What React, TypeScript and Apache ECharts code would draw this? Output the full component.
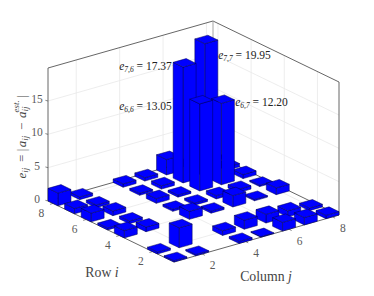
import React, { useEffect, useRef } from "react";
import * as echarts from "echarts";

// Error magnitude by row i (value at column j = 1..8)
const row1 = [0.2, 0.2, 0, 0.3, 0.1, 1.3, 1.1, 0.5];
const row2 = [0.3, 3.0, 0, 0.7, 1.35, 1.3, 0.9, 0.4];
const row3 = [0, 0, 0, 0, 0, 0, 0, 0];
const row4 = [1.1, 0.7, 0, 1.2, 0.3, 1.7, 0.2, 1.0];
const row5 = [0.3, 0.4, 0, 0.3, 0.3, 0.5, 0.5, 0.2];
const row6 = [1.3, 0.7, 0, 0.7, 0.3, 13.05, 12.2, 0.6];
const row7 = [0.8, 0.4, 0, 0.3, 0.5, 17.37, 19.95, 0.5];
const row8 = [1.9, 0.4, 0, 0.5, 0.5, 2.3, 0.5, 0.5];
const rows = [row1, row2, row3, row4, row5, row6, row7, row8];

const rowTicks = [2, 4, 6, 8];
const columnTicks = [2, 4, 6, 8];
const zTicks = [0, 5, 10, 15];
const annotations = [
  { sub: "7,6", value: "17.37" },
  { sub: "6,6", value: "13.05" },
  { sub: "7,7", value: "19.95" },
  { sub: "6,7", value: "12.20" },
];

const LIM0 = 0.7, LIM1 = 8.3, ZMAX = 19.95, HALF = 0.3;
const F = [174, 262], L = [48, 201], R = [339, 215], ZPX = 133;
const proj = (i: number, j: number, z: number) => {
  const u = (i - LIM0) / (LIM1 - LIM0), v = (j - LIM0) / (LIM1 - LIM0);
  return [F[0] + u * (L[0] - F[0]) + v * (R[0] - F[0]), F[1] + u * (L[1] - F[1]) + v * (R[1] - F[1]) - (z / ZMAX) * ZPX];
};

const AXIS = "#555555", GRID = "#e8e8e8", TICK = "#5a5a5a";
const SERIF = "'Liberation Serif', serif";

const line = (a: number[], b: number[], stroke: string, lineWidth = 0.8, z = 1) => ({
  type: "line", silent: true, z,
  shape: { x1: a[0], y1: a[1], x2: b[0], y2: b[1] },
  style: { stroke, lineWidth },
});
const label = (x: number, y: number, text: any, extra: any = {}, z = 20) => ({
  type: "text", silent: true, z, x, y,
  style: { text, font: `11.5px ${SERIF}`, fill: TICK, align: "center", verticalAlign: "middle", ...extra },
});

const mathRich = {
  it: { font: `italic 11.5px ${SERIF}`, fill: "#222" },
  rm: { font: `11.5px ${SERIF}`, fill: "#222" },
  sub: { font: `italic 7.5px ${SERIF}`, padding: [6, 0, 0, 0], fill: "#222" },
};
const yRich = {
  it: { font: `italic 13px ${SERIF}`, fill: "#444" },
  rm: { font: `13px ${SERIF}`, fill: "#444", padding: [0, 1.5, 0, 1.5] },
  sub: { font: `italic 9px ${SERIF}`, padding: [7, 1, 0, 0], fill: "#444" },
  sup: { font: `italic 9px ${SERIF}`, padding: [0, 1, 10, -7], fill: "#444" },
};
const titleRich = {
  rm: { font: `13.8px ${SERIF}`, fill: "#444" },
  it: { font: `italic 13.8px ${SERIF}`, fill: "#444" },
};
const annotationRich = (a: { sub: string; value: string }) => `{it|e}{sub|${a.sub}}{rm| = ${a.value}}`;

function buildGraphics() {
  const els: any[] = [];
  // floor and wall grid
  for (const j of columnTicks) {
    els.push(line(proj(LIM0, j, 0), proj(LIM1, j, 0), GRID));
    els.push(line(proj(LIM1, j, 0), proj(LIM1, j, ZMAX), GRID));
  }
  for (const i of rowTicks) {
    els.push(line(proj(i, LIM0, 0), proj(i, LIM1, 0), GRID));
    els.push(line(proj(i, LIM1, 0), proj(i, LIM1, ZMAX), GRID));
  }
  for (const z of zTicks.slice(1)) {
    els.push(line(proj(LIM1, LIM0, z), proj(LIM1, LIM1, z), GRID));
    els.push(line(proj(LIM1, LIM1, z), proj(LIM0, LIM1, z), GRID));
  }
  // box
  const l0 = proj(LIM1, LIM0, 0), l1 = proj(LIM1, LIM0, ZMAX);
  const f0 = proj(LIM0, LIM0, 0);
  const r0 = proj(LIM0, LIM1, 0), r1 = proj(LIM0, LIM1, ZMAX);
  const b0 = proj(LIM1, LIM1, 0), b1 = proj(LIM1, LIM1, ZMAX);
  [[l0, l1], [l1, b1], [b1, r1], [r1, r0], [l0, b0], [b0, r0], [l0, f0], [f0, r0]].forEach(([a, b]) => els.push(line(a, b, AXIS, 0.9, 2)));
  els.push(line(b0, b1, "#9a9a9a", 0.9, 2));
  // ticks and tick labels
  for (const i of rowTicks) {
    const p = proj(i, LIM0, 0);
    els.push(line(p, [p[0] - 3, p[1] + 0.9], AXIS, 0.7, 2));
    els.push(label(p[0] - 11.5, p[1] + 9.5, String(i)));
  }
  for (const j of columnTicks) {
    const p = proj(LIM0, j, 0);
    els.push(line(p, [p[0] + 2.6, p[1] + 1.3], AXIS, 0.7, 2));
    els.push(label(p[0] + 10.5, p[1] + 11.5, String(j)));
  }
  for (const z of zTicks) {
    const p = proj(LIM1, LIM0, z);
    els.push(line(p, [p[0] - 2.6, p[1] - 0.7], AXIS, 0.7, 2));
    els.push(label(p[0] - 11, p[1] - 2, String(z), { align: "center" }));
  }
  // axis titles
  els.push(label(102, 272, "{rm|Row }{it|i}", { rich: titleRich }));
  els.push(label(266, 276, "{rm|Column }{it|j}", { rich: titleRich }));
  const yl = label(21, 136, "{it|e}{sub|ij}{rm| = |}{it|a}{sub|ij}{rm| − }{it|a}{sub|ij}{sup|est.}{rm||}", { rich: yRich });
  (yl as any).rotation = Math.PI / 2;
  els.push(yl);
  // annotations
  const ann: [number, number, number][] = [[145.5, 66, 0], [145.5, 106, 1], [244.5, 55, 2], [261.5, 102, 3]];
  for (const [x, y, k] of ann) els.push(label(x, y, annotationRich(annotations[k]), { rich: mathRich }, 30));
  return els;
}

const barData: number[][] = [];
for (let i = 8; i >= 1; i--) for (let j = 8; j >= 1; j--) {
  const v = rows[i - 1][j - 1];
  if (v > 0) barData.push([i, j, v]);
}

export default function App() {
  const ref = useRef<HTMLDivElement>(null);
  useEffect(() => {
    document.body.style.margin = "0";
    const chart = echarts.init(ref.current!, undefined, { renderer: "svg" });
    const barStyle = { fill: "#0000ff", stroke: "#000050", lineWidth: 0.5 };
    chart.setOption({
      animation: false,
      grid: { left: 0, right: 0, top: 0, bottom: 0 },
      xAxis: { type: "value", min: 0, max: 374, show: false },
      yAxis: { type: "value", min: 0, max: 296, inverse: true, show: false },
      graphic: { elements: buildGraphics() },
      series: [{
        type: "custom",
        coordinateSystem: "cartesian2d",
        z: 5,
        clip: false,
        silent: true,
        data: barData,
        encode: { x: 0, y: 1 },
        renderItem: (_p: any, api: any) => {
          const i = api.value(0), j = api.value(1), z = api.value(2);
          const pt = (a: number, b: number, c: number) => api.coord(proj(a, b, c));
          const i0 = i - HALF, i1 = i + HALF, j0 = j - HALF, j1 = j + HALF;
          const face = (points: number[][]) => ({ type: "polygon", shape: { points }, style: barStyle });
          return {
            type: "group",
            children: [
              face([pt(i0, j0, 0), pt(i0, j1, 0), pt(i0, j1, z), pt(i0, j0, z)]),
              face([pt(i0, j0, 0), pt(i1, j0, 0), pt(i1, j0, z), pt(i0, j0, z)]),
              face([pt(i0, j0, z), pt(i0, j1, z), pt(i1, j1, z), pt(i1, j0, z)]),
            ],
          };
        },
      }],
    });
    return () => chart.dispose();
  }, []);
  return <div ref={ref} style={{ width: 374, height: 296 }} />;
}
